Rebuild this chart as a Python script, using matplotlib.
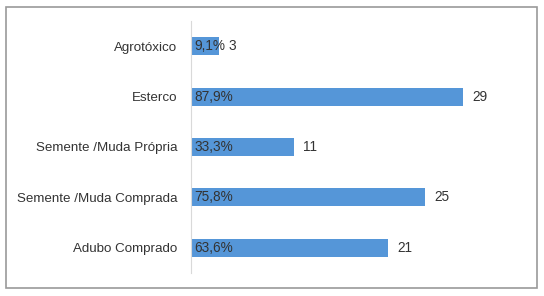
import matplotlib.pyplot as plt
from matplotlib.patches import Rectangle

categories = [
    "Agrotóxico",
    "Esterco",
    "Semente /Muda Própria",
    "Semente /Muda Comprada",
    "Adubo Comprado",
]
counts = [3, 29, 11, 25, 21]
percent_labels = ["9,1%", "87,9%", "33,3%", "75,8%", "63,6%"]

plt.rcParams["font.family"] = ["Liberation Sans", "DejaVu Sans"]

fig = plt.figure(figsize=(5.44, 2.96), dpi=100)
ax = fig.add_axes([191 / 544, 1 - 273 / 296, 300 / 544, 252 / 296])

# outer chart frame
fig.patches.append(Rectangle(
    (6 / 544, 1 - 288 / 296), 531 / 544, 281 / 296,
    transform=fig.transFigure, fill=False, edgecolor="#9a9a9a", linewidth=1.2,
))

y = list(range(len(categories)))
ax.barh(y, counts, height=0.36, color="#5596d8")

for yi, c, p in zip(y, counts, percent_labels):
    ax.text(0.35, yi, p, va="center", ha="left", fontsize=9.8, color="#333333")
    ax.text(c + 1.0, yi, str(c), va="center", ha="left", fontsize=9.8, color="#333333")

ax.set_yticks(y)
ax.set_yticklabels(categories, fontsize=9.6, color="#333333")
ax.set_ylim(len(categories) - 0.5, -0.5)
ax.set_xlim(0, 32)
ax.set_xticks([])
ax.tick_params(axis="y", length=0, pad=10)

for side in ["top", "right", "bottom"]:
    ax.spines[side].set_visible(False)
ax.spines["left"].set_color("#d9d9d9")

plt.savefig("out.png", dpi=100)
plt.close(fig)
